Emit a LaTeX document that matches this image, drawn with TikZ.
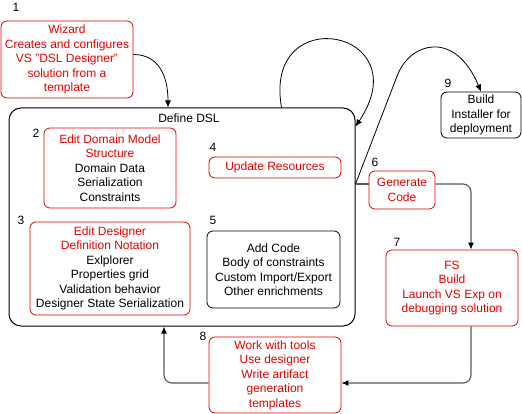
\documentclass[tikz,border=0pt]{standalone}
\usepackage{fontspec}
\setmainfont{Liberation Sans}
\usetikzlibrary{calc,arrows.meta}
\definecolor{stepred}{RGB}{226,0,0}
\definecolor{flowgray}{RGB}{88,88,88}

\begin{document}
\begin{tikzpicture}[x=1pt,y=-1pt, >={Latex[length=7pt,width=6pt,color=black]}, font=\fontsize{12}{14.5}\selectfont,
            box/.style={draw,rounded corners=6pt,line width=0.8pt,align=center,inner sep=0pt},
            redbox/.style={box,draw=stepred,text=stepred},
            flow/.style={draw=flowgray,line width=1.1pt,rounded corners=8pt}]
            \useasboundingbox (0,0) rectangle (522,414);
            \begin{scope}
            \node[box,rounded corners=12pt,line width=1pt,minimum width=346pt,minimum height=218pt] (dsl) at (182,217) {};
            \node (dsltitle) at (189,118) {Define DSL};
            \node[redbox,minimum width=132pt,minimum height=77pt] (wiz) at (67,59.5) {Wizard\\Creates and configures\\VS "DSL Designer"\\solution from a\\template};
            \node[redbox,minimum width=132pt,minimum height=80pt] (b2) at (110,168) {Edit Domain Model\\Structure\\\textcolor{black}{Domain Data}\\\textcolor{black}{Serialization}\\\textcolor{black}{Constraints}};
            \node[redbox,minimum width=160pt,minimum height=93pt] (b3) at (110,268.5) {Edit Designer\\Definition Notation\\\textcolor{black}{Exlplorer}\\\textcolor{black}{Properties grid}\\\textcolor{black}{Validation behavior}\\\textcolor{black}{Designer State Serialization}};
            \node[redbox,minimum width=132pt,minimum height=21pt] (b4) at (275,167.5) {Update Resources};
            \node[box,minimum width=133pt,minimum height=77pt] (b5) at (273.5,269.5) {Add Code\\Body of constraints\\Custom Import/Export\\Other enrichments};
            \node[redbox,minimum width=66pt,minimum height=38pt] (b6) at (402,190) {Generate\\Code};
            \node[redbox,minimum width=132pt,minimum height=76pt] (b7) at (452,288) {FS\\Build\\Launch VS Exp on\\debugging solution};
            \node[redbox,minimum width=132pt,minimum height=76pt] (b8) at (275,375) {Work with tools\\Use designer\\Write artifact\\generation\\templates};
            \node[box,minimum width=80pt,minimum height=46pt] (b9) at (481,115) {Build\\Installer for\\deployment};
            \end{scope}
            \begin{scope}[every node/.style={inner sep=0pt}]
            \node (n1) at (16,7) {1};
            \node (n2) at (36,133) {2};
            \node (n3) at (21,220) {3};
            \node (n4) at (213,147) {4};
            \node (n5) at (213,220) {5};
            \node (n6) at (375,162) {6};
            \node (n7) at (397,242) {7};
            \node (n8) at (203,336) {8};
            \node (n9) at (448,83) {9};
            \end{scope}
            \begin{scope}[line width=0.8pt]
            \draw[->] (wiz.east) ++(0,-5) .. controls +(25,0) and +(0,-32) .. ($(dsl.north)+(-14,0)$);
            \draw[->] ($(dsl.north east)+(-74,0)$) .. controls +(-19,-108) and +(65,-97) .. ($(dsl.north east)+(0,19)$);
            \draw[->] ($(dsl.east)+(0,-33)$) -- ++(42,-109) .. controls +(13,-33) and +(-26,-62) .. (b9.north);
            \end{scope}
            \draw[flow] ($(dsl.east)+(0,-33)$) -- ($(b6.west)+(0,-6)$);
            \draw[flow,->] ($(b6.east)+(0,-6)$) -| ($(b7.north)+(19,0)$);
            \draw[flow,->] ($(b7.south)+(19,0)$) |- ($(b8.east)+(0,8)$);
            \draw[flow,->] ($(b8.west)+(0,8)$) -| ($(dsl.south)+(-18,0)$);
\end{tikzpicture}
\end{document}
